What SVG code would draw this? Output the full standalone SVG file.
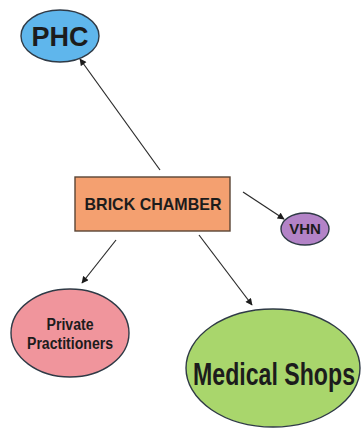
<svg xmlns="http://www.w3.org/2000/svg" width="363" height="429" viewBox="0 0 363 429">
<style>
.n{stroke:#2f3a46;stroke-width:1.4}
.t{font-family:"Liberation Sans",Arial,sans-serif;font-weight:bold;text-anchor:middle;fill:#1c1c1c}
.c{stroke:#2a2a2a;stroke-width:1.2;fill:none;marker-end:url(#ah)}
</style>
<defs>
<marker id="ah" viewBox="0 0 10 10" refX="9" refY="5" markerWidth="8" markerHeight="7" markerUnits="userSpaceOnUse" orient="auto">
<path d="M0,0 L10,5 L0,10 z" fill="#1c1c1c"/>
</marker>
</defs>
<rect width="363" height="429" fill="#ffffff"/>
<g id="connectors">
<line class="c" x1="160" y1="170" x2="80" y2="59"/>
<line class="c" x1="243" y1="192" x2="284" y2="219"/>
<line class="c" x1="116" y1="240" x2="82" y2="283"/>
<line class="c" x1="199" y1="235" x2="252" y2="305"/>
</g>
<g id="phc">
<ellipse class="n" cx="60" cy="36" rx="39" ry="26" fill="#5fb6ec"/>
<text class="t" x="60" y="46" font-size="27" fill="#111827">PHC</text>
</g>
<g id="brick-chamber">
<rect x="75" y="177" width="155" height="54" fill="#f4a070" stroke="#5a4535" stroke-width="1.4"/>
<text class="t" x="153" y="210" font-size="17" textLength="137" lengthAdjust="spacingAndGlyphs">BRICK CHAMBER</text>
</g>
<g id="vhn">
<ellipse class="n" cx="305" cy="229" rx="24" ry="16" fill="#b383c7"/>
<text class="t" x="305" y="234" font-size="15">VHN</text>
</g>
<g id="private-practitioners">
<ellipse class="n" cx="70" cy="333" rx="59" ry="44" fill="#f0959c"/>
<text class="t" x="70" y="330" font-size="16" textLength="47" lengthAdjust="spacingAndGlyphs">Private</text>
<text class="t" x="70" y="349" font-size="16" textLength="86" lengthAdjust="spacingAndGlyphs">Practitioners</text>
</g>
<g id="medical-shops">
<ellipse class="n" cx="273" cy="368" rx="87" ry="59" fill="#a9d66c"/>
<text class="t" x="274" y="385" font-size="31" textLength="162" lengthAdjust="spacingAndGlyphs">Medical Shops</text>
</g>
</svg>
